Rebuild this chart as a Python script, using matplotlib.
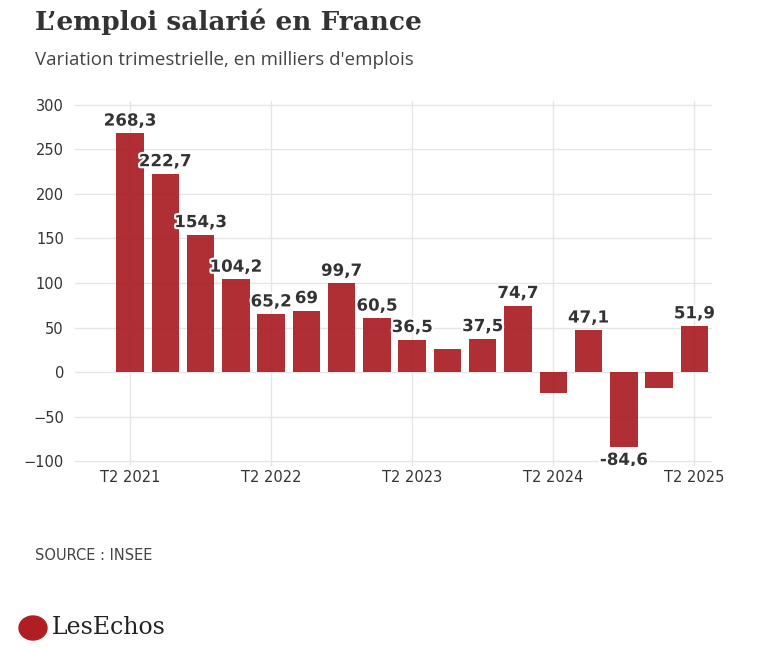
import matplotlib
matplotlib.use("Agg")
import matplotlib.pyplot as plt
import matplotlib.patheffects as pe

values = [268.3, 222.7, 154.3, 104.2, 65.2, 69, 99.7, 60.5, 36.5, 26, 37.5, 74.7, -23, 47.1, -84.6, -18, 51.9]
labels = ["268,3", "222,7", "154,3", "104,2", "65,2", "69", "99,7", "60,5", "36,5", "", "37,5", "74,7", "", "47,1", "-84,6", "", "51,9"]
tick_pos = [0, 4, 8, 12, 16]
tick_labels = ["T2 2021", "T2 2022", "T2 2023", "T2 2024", "T2 2025"]

W, H = 757, 649
fig = plt.figure(figsize=(W/100, H/100), dpi=100)
ax = fig.add_axes([75/W, 1-465.5/H, (712-75)/W, 365/H])
x = list(range(len(values)))
ax.bar(x, values, width=0.78, color="#a81d22", alpha=0.92, zorder=2)
ax.set_xlim(-1.56, 16.5)
ax.set_ylim(-105, 305)
ax.set_yticks([-100, -50, 0, 50, 100, 150, 200, 250, 300])
ax.set_xticks(tick_pos)
ax.set_xticklabels(tick_labels)
ax.grid(True, color="#e6e6e6", lw=1, zorder=0)
for s in ax.spines.values():
    s.set_visible(False)
ax.tick_params(length=0, labelsize=10.5, colors="#333333")
ax.tick_params(axis="y", pad=8)
for xi, v, l in zip(x, values, labels):
    if not l:
        continue
    if v >= 0:
        t = ax.text(xi, v + 4, l, ha="center", va="bottom", fontsize=12, fontweight="bold", color="#333333")
    else:
        t = ax.text(xi, v - 4, l, ha="center", va="top", fontsize=12, fontweight="bold", color="#333333", clip_on=True)
    t.set_path_effects([pe.withStroke(linewidth=3, foreground="white")])

fig.text(35/W, 1-22/H, "L\u2019emploi salarié en France", fontsize=19, fontweight="bold", family="DejaVu Serif", color="#333333", va="center")
fig.text(35/W, 1-60/H, "Variation trimestrielle, en milliers d'emplois", fontsize=13.5, color="#444444", va="center", family="Open Sans")
fig.text(35/W, 1-555/H, "SOURCE : INSEE", fontsize=10.5, color="#444444", va="center")
circ = plt.Circle((33/W, 1-628/H), 14/W, transform=fig.transFigure, color="#b01e23")
fig.patches.append(circ)
fig.text(52/W, 1-628/H, "LesEchos", fontsize=17, family="DejaVu Serif", color="#222222", va="center")
fig.savefig("out.png", dpi=100, facecolor="white")
